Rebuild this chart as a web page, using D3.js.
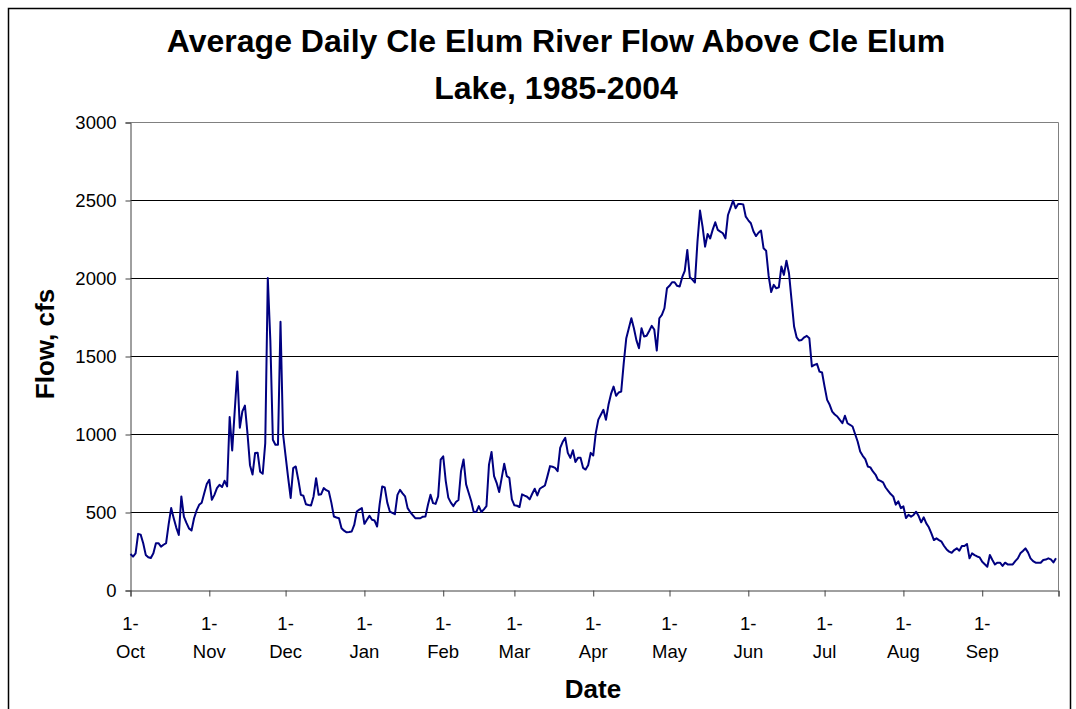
<!DOCTYPE html>
<html>
<head>
<meta charset="utf-8">
<script src="https://cdn.jsdelivr.net/npm/d3@7"></script>
<style>
  html, body { margin: 0; padding: 0; background: #fff; }
  svg { display: block; }
  text { font-family: "Liberation Sans", Arial, sans-serif; fill: #000; }
</style>
</head>
<body>
<svg id="chart" width="1076" height="709"></svg>
<script>
// Water-year months (Oct through Sep) and their lengths in days
const months = ["Oct", "Nov", "Dec", "Jan", "Feb", "Mar", "Apr", "May", "Jun", "Jul", "Aug", "Sep"];
const monthDays = [31, 30, 31, 31, 28, 31, 30, 31, 30, 31, 31, 30];

// Flow axis ticks (cfs)
const flowTicks = [0, 500, 1000, 1500, 2000, 2500, 3000];

// Average daily flow (cfs), one value per day starting 1-Oct
const flow = [
  231, 214, 235, 360, 355, 300, 225, 210, 205, 235,
  300, 300, 278, 290, 300, 420, 525, 460, 400, 353,
  600, 471, 430, 395, 381, 460, 510, 546, 560, 620,
  680, 706, 578, 610, 653, 674, 660, 700, 664, 1109,
  895, 1150, 1400, 1040, 1145, 1182, 1006, 800, 740, 878,
  880, 758, 745, 942, 2000, 1600, 963, 931, 931, 1720,
  1000, 860, 720, 590, 781, 792, 707, 610, 604, 550,
  545, 542, 600, 717, 610, 614, 653, 640, 632, 560,
  471, 465, 460, 396, 380, 370, 372, 375, 417, 503,
  515, 525, 424, 450, 475, 450, 445, 407, 550, 664,
  657, 560, 503, 495, 486, 610, 642, 620, 600, 525,
  500, 480, 460, 460, 460, 470, 471, 546, 610, 557,
  552, 600, 836, 857, 698, 592, 560, 538, 564, 577,
  762, 836, 677, 623, 570, 500, 500, 538, 500, 517,
  538, 804, 885, 730, 687, 628, 719, 809, 730, 719,
  581, 543, 540, 532, 613, 605, 598, 581, 617, 649,
  606, 649, 660, 670, 730, 794, 790, 783, 762, 911,
  950, 975, 879, 847, 896, 821, 847, 847, 783, 772,
  800, 879, 862, 1006, 1092, 1123, 1155, 1091, 1187, 1257,
  1304, 1245, 1266, 1272, 1454, 1614, 1678, 1742, 1678, 1600,
  1550, 1678, 1625, 1630, 1660, 1693, 1670, 1535, 1742, 1763,
  1806, 1934, 1950, 1973, 1973, 1950, 1945, 2005, 2045, 2180,
  2005, 1990, 1971, 2233, 2432, 2329, 2201, 2282, 2254, 2310,
  2357, 2308, 2297, 2287, 2254, 2404, 2450, 2496, 2447, 2474,
  2474, 2472, 2393, 2370, 2351, 2300, 2269, 2290, 2304, 2190,
  2175, 2013, 1910, 1956, 1934, 1940, 2073, 2020, 2111, 2030,
  1860, 1689, 1620, 1599, 1603, 1620, 1629, 1614, 1433, 1443,
  1450, 1400, 1394, 1304, 1219, 1187, 1144, 1125, 1112, 1090,
  1069, 1117, 1069, 1059, 1048, 1000, 952, 888, 860, 839,
  792, 786, 760, 740, 707, 700, 690, 657, 636, 615,
  600, 547, 568, 525, 536, 461, 482, 470, 481, 502,
  474, 434, 466, 427, 402, 363, 320, 331, 320, 310,
  282, 260, 246, 239, 256, 267, 252, 282, 282, 295,
  203, 235, 224, 215, 209, 181, 165, 149, 224, 192,
  164, 175, 175, 154, 175, 164, 164, 164, 185, 203,
  235, 250, 267, 241, 203, 185, 175, 175, 175, 192,
  195, 203, 196, 177, 203
];

const svg = d3.select("#chart");

// Outer chart border
svg.append("rect")
  .attr("x", 8.5).attr("y", 8.5)
  .attr("width", 1062).attr("height", 710)
  .attr("fill", "#fff").attr("stroke", "#000").attr("stroke-width", 1.5);

const plot = { left: 130.5, right: 1058.5, top: 122, bottom: 590 };
const totalDays = d3.sum(monthDays);

const x = d3.scaleLinear().domain([0, totalDays]).range([plot.left, plot.right]);
const y = d3.scaleLinear().domain([0, 3000]).range([plot.bottom, plot.top]);

// Horizontal gridlines (offset half a pixel for crisp 1px lines)
svg.append("g")
  .selectAll("line")
  .data(flowTicks.filter(v => v > 0 && v < 3000))
  .join("line")
  .attr("x1", plot.left).attr("x2", plot.right)
  .attr("y1", d => y(d) + 0.5).attr("y2", d => y(d) + 0.5)
  .attr("stroke", "#000").attr("stroke-width", 1);

// Plot-area frame (top and right)
svg.append("path")
  .attr("d", `M${plot.left},${plot.top + 0.5}H${plot.right}V${plot.bottom}`)
  .attr("fill", "none").attr("stroke", "#808080").attr("stroke-width", 1);

// Y axis
const yAxis = svg.append("g")
  .attr("transform", `translate(${plot.left},0.5)`)
  .call(d3.axisLeft(y).tickValues(flowTicks).tickSize(5).tickPadding(9).tickFormat(d3.format("d")));
yAxis.select(".domain").attr("stroke", "#404040");
yAxis.selectAll(".tick line").attr("stroke", "#404040");
yAxis.selectAll("text").attr("font-size", 18.5).attr("fill", "#000")
  .style("font-family", "'Liberation Sans', Arial, sans-serif");

// X axis: ticks at the first of each month, plus the end of the year
const monthStarts = months.map((m, i) => d3.sum(monthDays.slice(0, i)));
const xAxis = svg.append("g")
  .attr("transform", `translate(0,${plot.bottom + 0.5})`)
  .call(d3.axisBottom(x).tickValues([...monthStarts, totalDays]).tickSize(6).tickFormat(""));
xAxis.select(".domain").attr("stroke", "#404040");
xAxis.selectAll(".tick line").attr("stroke", "#404040");

const labels = svg.append("g");
months.forEach((m, i) => {
  const t = labels.append("text")
    .attr("text-anchor", "middle")
    .attr("font-size", 18.5);
  t.append("tspan").attr("x", x(monthStarts[i])).attr("y", 630).text("1-");
  t.append("tspan").attr("x", x(monthStarts[i])).attr("y", 658).text(m);
});

// Flow line
const line = d3.line()
  .x((d, i) => x(i))
  .y(d => y(d));
svg.append("path")
  .datum(flow)
  .attr("d", line)
  .attr("fill", "none")
  .attr("stroke", "#000080")
  .attr("stroke-width", 2)
  .attr("stroke-linejoin", "round");

// Titles
const title = svg.append("text")
  .attr("text-anchor", "middle")
  .attr("font-size", 32)
  .attr("font-weight", "bold");
title.append("tspan").attr("x", 556).attr("y", 52).text("Average Daily Cle Elum River Flow Above Cle Elum");
title.append("tspan").attr("x", 556).attr("y", 99).text("Lake, 1985-2004");

svg.append("text")
  .attr("x", 593).attr("y", 698)
  .attr("text-anchor", "middle")
  .attr("font-size", 26)
  .attr("font-weight", "bold")
  .text("Date");

svg.append("text")
  .attr("transform", "translate(54,344) rotate(-90)")
  .attr("text-anchor", "middle")
  .attr("font-size", 26)
  .attr("font-weight", "bold")
  .text("Flow, cfs");
</script>
</body>
</html>
